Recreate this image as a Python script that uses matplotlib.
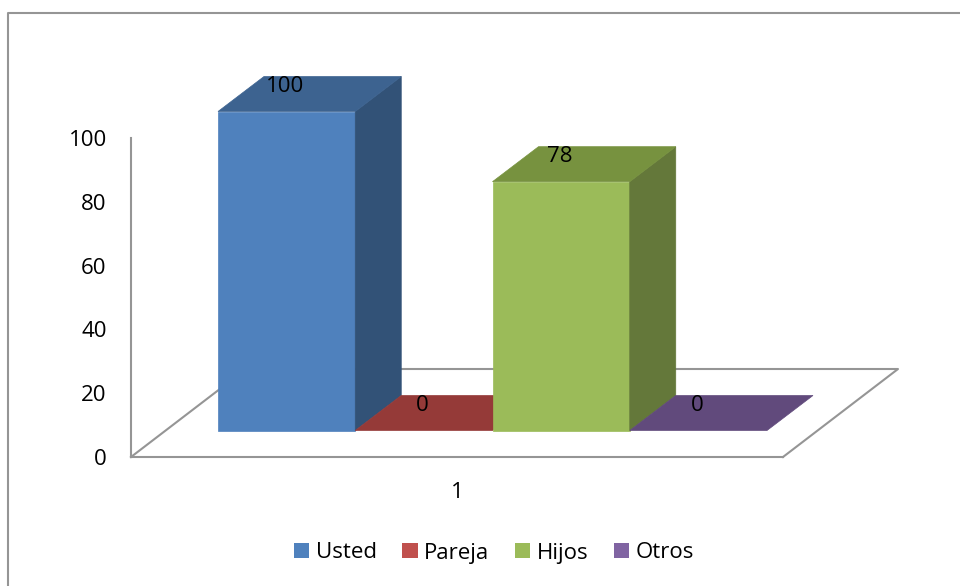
import matplotlib
matplotlib.use("Agg")
import matplotlib.pyplot as plt
from matplotlib.lines import Line2D
from matplotlib.patches import Patch

series_names = ['Usted', 'Pareja', 'Hijos', 'Otros']
series_values = [100, 0, 78, 0]
category_labels = ['1']
y_ticks = [0, 20, 40, 60, 80, 100]

# face colours of the excel style 3d bars
front_colors = ['#4F81BD', '#C0504D', '#9BBB59', '#8064A2']
top_colors = ['#3D6390', '#953A38', '#77923F', '#614A7C']
side_colors = ['#325277', '#7B2F2D', '#64783A', '#503E66']
line_color = '#959595'

W, H = 960, 586
plt.rcParams['font.family'] = ['Open Sans', 'DejaVu Sans']
plt.rcParams['font.size'] = 16

fig = plt.figure(figsize=(W / 100, H / 100), dpi=100)
ax = fig.add_axes([131 / W, 1 - 457 / H, (783 - 131) / W, (457 - 138) / H])

# one x unit is one bar width
px_x = 137.25
ax.set_xlim(-(218 - 131) / px_x, (783 - 218) / px_x)
ax.set_ylim(0, 100)
px_y = (457 - 138) / 100

depth_x = 46 / px_x       # depth of a bar
depth_y = 35 / px_y
lift = 26.5 / px_y        # bars stand a bit behind the front of the floor
floor_x = 115 / px_x      # depth of the floor
floor_y = 88 / px_y

x0, x1 = ax.get_xlim()

# floor
ax.plot([x0, x0 + floor_x, x1 + floor_x, x1], [0, floor_y, floor_y, 0],
        color=line_color, lw=1.5, clip_on=False, zorder=1)

for i, v in enumerate(series_values):
    l, r = i, i + 1
    b, t = lift, lift + v
    if v > 0:
        ax.fill([l, r, r, l], [b, b, t, t], color=front_colors[i], lw=0.5, clip_on=False, zorder=3)
        ax.fill([r, r + depth_x, r + depth_x, r], [b, b + depth_y, t + depth_y, t],
                color=side_colors[i], lw=0.5, clip_on=False, zorder=3)
    ax.fill([l, r, r + depth_x, l + depth_x], [t, t, t + depth_y, t + depth_y],
            color=top_colors[i], lw=0.5, clip_on=False, zorder=3)
    ax.annotate(str(v), (i + 0.5, t + depth_y), xytext=(-1, -7), textcoords='offset points',
                ha='center', va='center', zorder=5, annotation_clip=False)

for s in ['top', 'right']:
    ax.spines[s].set_visible(False)
for s in ['left', 'bottom']:
    ax.spines[s].set_color(line_color)
    ax.spines[s].set_linewidth(1.5)

ax.set_yticks(y_ticks)
ax.set_xticks([(x0 + x1) / 2])
ax.set_xticklabels(category_labels)
ax.tick_params(axis='y', length=0, pad=17.5)
ax.tick_params(axis='x', length=0, pad=18)

handles = [Patch(facecolor=c, label=n) for c, n in zip(front_colors, series_names)]
fig.legend(handles=handles, ncol=4, frameon=False, loc='center',
           bbox_to_anchor=(494 / W, 1 - 553 / H), handlelength=0.68, handleheight=0.68,
           handletextpad=0.3, columnspacing=1.14, borderpad=0)

# chart frame, runs off the picture at right and bottom
fig.add_artist(Line2D([8 / W, 8 / W, 1], [0, 1 - 13 / H, 1 - 13 / H], color=line_color, lw=1.5))

fig.savefig('out.png', dpi=100)
